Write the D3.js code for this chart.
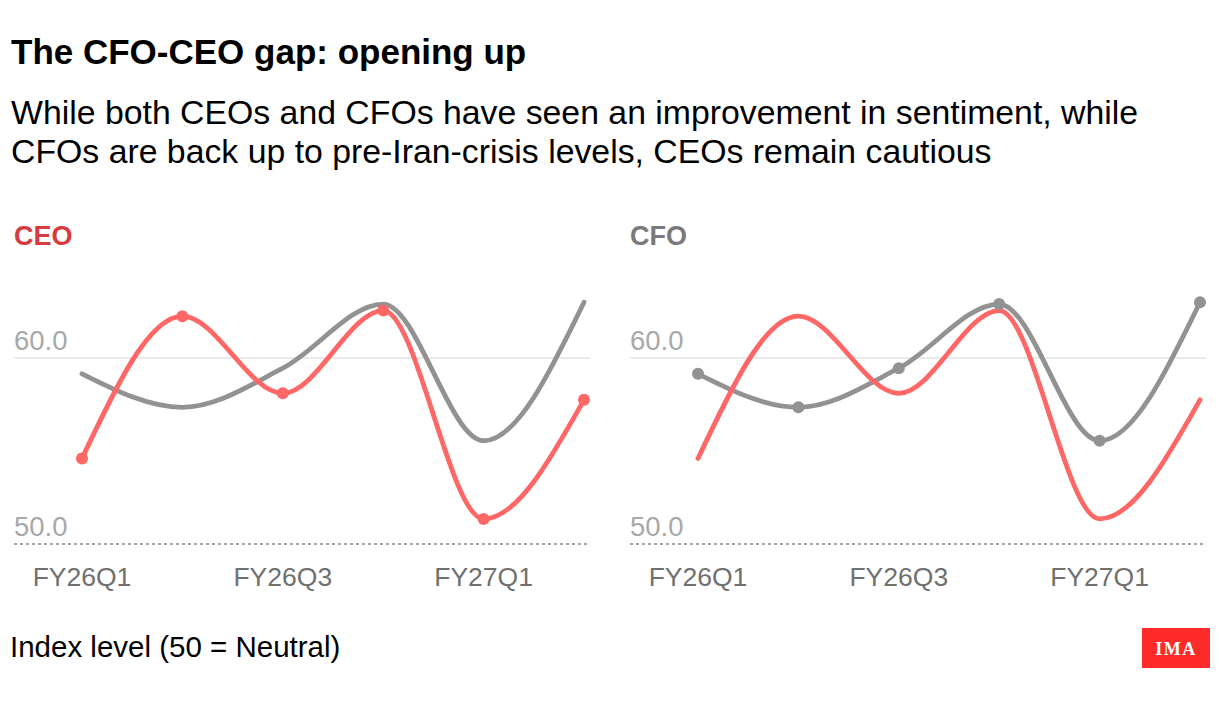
<!DOCTYPE html>
<html>
<head>
<meta charset="utf-8">
<script src="https://cdn.jsdelivr.net/npm/d3@7"></script>
<style>
  body { margin: 0; background: #fff; }
  text { font-family: "Liberation Sans", Arial, sans-serif; }
</style>
</head>
<body>
<svg width="1220" height="702"></svg>
<script>
var svg = d3.select("svg"),
    width = +svg.attr("width"),
    height = +svg.attr("height");

var quarters = ["FY26Q1", "FY26Q2", "FY26Q3", "FY26Q4", "FY27Q1", "FY27Q2"];
var tickQuarters = ["FY26Q1", "FY26Q3", "FY27Q1"];
var ceoValues = [54.6, 62.25, 58.1, 62.55, 51.35, 57.75];
var cfoValues = [59.15, 57.35, 59.45, 62.9, 55.55, 63.0];
var yTicks = [50, 60];

var red = "#ff6666",
    grey = "#929292";

var panels = [
  { name: "CEO", colour: "#d63b40", left: 14, dots: "ceo" },
  { name: "CFO", colour: "#7a7a7a", left: 630, dots: "cfo" }
];

// title + subtitle
svg.append("text")
    .attr("x", 11).attr("y", 64)
    .style("font-size", "35px").style("font-weight", "bold")
    .text("The CFO-CEO gap: opening up");

svg.append("text")
    .attr("x", 11).attr("y", 124)
    .style("font-size", "33.8px")
    .text("While both CEOs and CFOs have seen an improvement in sentiment, while");
svg.append("text")
    .attr("x", 11).attr("y", 163)
    .style("font-size", "33.8px")
    .text("CFOs are back up to pre-Iran-crisis levels, CEOs remain cautious");

var y = d3.scaleLinear()
    .domain([50, 60])
    .range([544, 358]);

var line = d3.line()
    .curve(d3.curveMonotoneX);

panels.forEach(function(p) {
  var g = svg.append("g");

  var x = d3.scalePoint()
      .domain(quarters)
      .range([p.left + 68, p.left + 570]);

  line.x(function(d, i) { return x(quarters[i]); })
      .y(function(d) { return y(d); });

  g.append("text")
      .attr("x", p.left).attr("y", 245)
      .style("font-size", "27px").style("font-weight", "bold")
      .attr("fill", p.colour)
      .text(p.name);

  // gridline and baseline
  g.append("line")
      .attr("x1", p.left).attr("x2", p.left + 576)
      .attr("y1", y(60)).attr("y2", y(60))
      .attr("stroke", "#e3e3e3").attr("stroke-width", 1.5);
  g.append("line")
      .attr("x1", p.left).attr("x2", p.left + 576)
      .attr("y1", y(50)).attr("y2", y(50))
      .attr("stroke", "#888").attr("stroke-width", 1.5)
      .attr("stroke-dasharray", "3,3");

  g.selectAll(".ytick")
    .data(yTicks)
    .enter().append("text")
      .attr("x", p.left).attr("y", function(d) { return y(d) - 8; })
      .style("font-size", "27.5px")
      .attr("fill", "#a8a8a8")
      .text(function(d) { return d.toFixed(1); });

  g.selectAll(".xtick")
    .data(tickQuarters)
    .enter().append("text")
      .attr("x", function(d) { return x(d); }).attr("y", 586)
      .attr("text-anchor", "middle")
      .style("font-size", "26.5px")
      .attr("fill", "#707070")
      .text(function(d) { return d; });

  g.append("path")
      .datum(cfoValues)
      .attr("fill", "none").attr("stroke", grey)
      .attr("stroke-width", 4.8).attr("stroke-linecap", "round")
      .attr("d", line);

  g.append("path")
      .datum(ceoValues)
      .attr("fill", "none").attr("stroke", red)
      .attr("stroke-width", 4.8).attr("stroke-linecap", "round")
      .attr("d", line);

  var dotValues = p.dots === "ceo" ? ceoValues : cfoValues;
  g.selectAll(".dot")
    .data(dotValues)
    .enter().append("circle")
      .attr("cx", function(d, i) { return x(quarters[i]); })
      .attr("cy", function(d) { return y(d); })
      .attr("r", 6)
      .attr("fill", p.dots === "ceo" ? red : grey);
});

svg.append("text")
    .attr("x", 10).attr("y", 657)
    .style("font-size", "29.5px")
    .text("Index level (50 = Neutral)");

// logo
svg.append("rect")
    .attr("x", 1142).attr("y", 628)
    .attr("width", 68).attr("height", 40)
    .attr("fill", "#ff2a2a");
svg.append("text")
    .attr("x", 1176).attr("y", 655)
    .attr("text-anchor", "middle")
    .style("font-family", "'Liberation Serif', 'DejaVu Serif', serif")
    .style("font-size", "18px").style("font-weight", "bold")
    .style("letter-spacing", "1.5px")
    .attr("fill", "#fff")
    .text("IMA");
</script>
</body>
</html>
